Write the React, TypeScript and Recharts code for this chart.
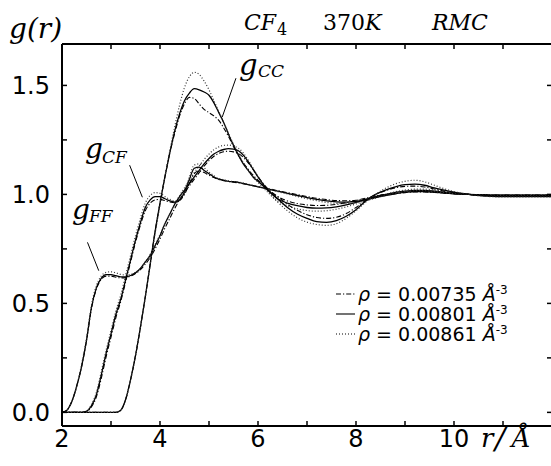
import React from "react";
import { LineChart, Line, XAxis, YAxis, ReferenceLine, Legend } from "recharts";

// r grid (Å) shared by all nine curves
const rGrid = [
  2.0, 2.1, 2.2, 2.3, 2.4, 2.5, 2.6, 2.7, 2.8, 2.9,
  3.0, 3.1, 3.2, 3.3, 3.4, 3.5, 3.6, 3.7, 3.8, 3.9,
  4.0, 4.1, 4.2, 4.3, 4.4, 4.5, 4.6, 4.7, 4.8, 4.9,
  5.0, 5.1, 5.2, 5.3, 5.4, 5.5, 5.6, 5.7, 5.8, 5.9, 6.0,
  6.2, 6.4, 6.6, 6.8, 7.0, 7.2, 7.4, 7.6, 7.8, 8.0, 8.2, 8.4, 8.6, 8.8, 9.0, 9.2, 9.4, 9.6, 9.8, 10.0,
  10.3, 10.6, 10.9, 11.2, 11.5, 11.8, 12.0,
];

// g_FF
const ffLow = [
  0, 0.01, 0.05, 0.12, 0.21, 0.33, 0.475, 0.565, 0.61, 0.625,
  0.625, 0.62, 0.617, 0.618, 0.625, 0.637, 0.655, 0.68, 0.71, 0.75,
  0.795, 0.845, 0.89, 0.935, 0.975, 1.01, 1.04, 1.07, 1.1, 1.13,
  1.155, 1.175, 1.188, 1.196, 1.198, 1.195, 1.187, 1.17, 1.145, 1.115, 1.082,
  1.025, 0.99, 0.97, 0.958, 0.952, 0.949, 0.95, 0.954, 0.962, 0.972, 0.983, 0.993, 1.0, 1.006, 1.011, 1.013, 1.013, 1.011, 1.007, 1.003,
  1.0, 0.998, 0.996, 0.996, 0.996, 0.996, 0.996,
];
const ffMid = [
  0, 0.01, 0.05, 0.12, 0.21, 0.33, 0.48, 0.57, 0.615, 0.632,
  0.632, 0.627, 0.622, 0.622, 0.628, 0.64, 0.66, 0.69, 0.72, 0.765,
  0.81, 0.865, 0.91, 0.955, 0.99, 1.02, 1.05, 1.08, 1.11, 1.14,
  1.165, 1.185, 1.198, 1.206, 1.21, 1.208, 1.2, 1.18, 1.15, 1.115, 1.08,
  1.02, 0.98, 0.96, 0.948, 0.94, 0.937, 0.938, 0.943, 0.952, 0.963, 0.977, 0.99, 1.0, 1.009, 1.015, 1.018, 1.018, 1.015, 1.01, 1.005,
  1.0, 0.997, 0.995, 0.995, 0.995, 0.995, 0.995,
];
const ffHigh = [
  0, 0.01, 0.05, 0.12, 0.22, 0.34, 0.49, 0.58, 0.625, 0.642,
  0.645, 0.64, 0.633, 0.63, 0.633, 0.643, 0.66, 0.69, 0.725, 0.77,
  0.815, 0.865, 0.91, 0.955, 0.995, 1.03, 1.065, 1.1, 1.13, 1.16,
  1.185, 1.205, 1.218, 1.225, 1.226, 1.222, 1.212, 1.19, 1.158, 1.12, 1.08,
  1.015, 0.97, 0.948, 0.934, 0.926, 0.923, 0.925, 0.932, 0.943, 0.956, 0.972, 0.987, 1.0, 1.012, 1.02, 1.024, 1.024, 1.02, 1.013, 1.006,
  1.0, 0.996, 0.994, 0.994, 0.994, 0.994, 0.994,
];

// g_CF
const cfLow = [
  0, 0, 0, 0, 0, 0.004, 0.025, 0.07, 0.155, 0.255,
  0.345, 0.435, 0.51, 0.6, 0.69, 0.78, 0.86, 0.925, 0.96, 0.975,
  0.977, 0.972, 0.965, 0.962, 0.972, 1.0, 1.05, 1.095, 1.108, 1.1,
  1.088, 1.077, 1.068, 1.063, 1.059, 1.056, 1.053, 1.049, 1.045, 1.04, 1.036,
  1.027, 1.017, 1.008, 0.999, 0.99, 0.982, 0.976, 0.972, 0.971, 0.973, 0.978, 0.987, 0.996, 1.003, 1.008, 1.011, 1.011, 1.009, 1.006, 1.003,
  1.0, 0.998, 0.997, 0.997, 0.997, 0.997, 0.997,
];
const cfMid = [
  0, 0, 0, 0, 0, 0.005, 0.03, 0.08, 0.17, 0.27,
  0.36, 0.45, 0.52, 0.61, 0.7, 0.79, 0.87, 0.94, 0.975, 0.99,
  0.99, 0.98, 0.97, 0.965, 0.975, 1.01, 1.07, 1.12, 1.125, 1.11,
  1.095, 1.08, 1.07, 1.065, 1.06, 1.058, 1.055, 1.05, 1.045, 1.04, 1.035,
  1.025, 1.015, 1.005, 0.995, 0.985, 0.977, 0.97, 0.966, 0.965, 0.968, 0.975, 0.985, 0.995, 1.003, 1.01, 1.013, 1.013, 1.01, 1.006, 1.003,
  1.0, 0.998, 0.997, 0.997, 0.997, 0.997, 0.997,
];
const cfHigh = [
  0, 0, 0, 0, 0, 0.006, 0.035, 0.09, 0.185, 0.285,
  0.375, 0.465, 0.54, 0.63, 0.72, 0.81, 0.89, 0.96, 0.995, 1.008,
  1.005, 0.99, 0.977, 0.97, 0.978, 1.015, 1.08, 1.135, 1.14, 1.122,
  1.103, 1.085, 1.073, 1.067, 1.062, 1.059, 1.056, 1.052, 1.047, 1.041, 1.036,
  1.024, 1.013, 1.002, 0.991, 0.98, 0.971, 0.963, 0.959, 0.958, 0.962, 0.971, 0.983, 0.995, 1.005, 1.013, 1.017, 1.017, 1.013, 1.008, 1.004,
  1.0, 0.997, 0.996, 0.996, 0.996, 0.996, 0.996,
];

// g_CC
const ccLow = [
  0, 0, 0, 0, 0, 0, 0, 0, 0, 0,
  0, 0, 0.01, 0.06, 0.15, 0.26, 0.39, 0.53, 0.68, 0.83,
  0.96, 1.08, 1.19, 1.28, 1.36, 1.415, 1.445, 1.44, 1.415, 1.39,
  1.375, 1.36, 1.34, 1.305, 1.265, 1.22, 1.18, 1.145, 1.115, 1.088, 1.065,
  1.025, 0.99, 0.955, 0.927, 0.907, 0.894, 0.89, 0.895, 0.912, 0.94, 0.972, 1.0, 1.017, 1.03, 1.037, 1.038, 1.034, 1.025, 1.015, 1.008,
  1.0, 0.994, 0.991, 0.991, 0.991, 0.991, 0.991,
];
const ccMid = [
  0, 0, 0, 0, 0, 0, 0, 0, 0, 0,
  0, 0, 0.01, 0.06, 0.15, 0.26, 0.39, 0.53, 0.68, 0.83,
  0.96, 1.08, 1.19, 1.29, 1.37, 1.43, 1.465, 1.485, 1.48, 1.47,
  1.455, 1.42, 1.375, 1.33, 1.275, 1.225, 1.18, 1.14, 1.11, 1.08, 1.06,
  1.02, 0.98, 0.94, 0.91, 0.89, 0.875, 0.872, 0.88, 0.9, 0.93, 0.97, 1.0, 1.02, 1.035, 1.045, 1.047, 1.042, 1.03, 1.02, 1.01,
  1.0, 0.993, 0.99, 0.99, 0.99, 0.99, 0.99,
];
const ccHigh = [
  0, 0, 0, 0, 0, 0, 0, 0, 0, 0,
  0, 0, 0.01, 0.06, 0.15, 0.26, 0.39, 0.53, 0.68, 0.82,
  0.95, 1.08, 1.2, 1.31, 1.41, 1.49, 1.54, 1.56, 1.55, 1.52,
  1.48, 1.43, 1.38, 1.33, 1.28, 1.23, 1.185, 1.145, 1.11, 1.08, 1.055,
  1.01, 0.965, 0.925, 0.893, 0.873, 0.862, 0.858, 0.866, 0.89, 0.925, 0.965, 1.0, 1.028, 1.048, 1.06, 1.065, 1.058, 1.042, 1.026, 1.013,
  1.0, 0.992, 0.989, 0.989, 0.989, 0.989, 0.989,
];

const xTicks = [2, 3, 4, 5, 6, 7, 8, 9, 10, 11, 12];
const xLabelTicks = [2, 4, 6, 8, 10];
const yTicks = [0, 0.25, 0.5, 0.75, 1, 1.25, 1.5];
const yLabelTicks = [0, 0.5, 1, 1.5];
const densities = ["0.00735", "0.00801", "0.00861"];

const data = rGrid.map((r, i) => ({
  r,
  ffLow: ffLow[i], ffMid: ffMid[i], ffHigh: ffHigh[i],
  cfLow: cfLow[i], cfMid: cfMid[i], cfHigh: cfHigh[i],
  ccLow: ccLow[i], ccMid: ccMid[i], ccHigh: ccHigh[i],
}));

// line style per density: dash-dot, solid, dotted
const styles = [
  { dash: "5 2 1.2 2", color: "#000", width: 1.1 },
  { dash: undefined, color: "#000", width: 1.3 },
  { dash: "1 2", color: "#333", width: 1.2 },
];
const series = [
  ["ffLow", "ffMid", "ffHigh"],
  ["cfLow", "cfMid", "cfHigh"],
  ["ccLow", "ccMid", "ccHigh"],
];

const serif = "DejaVu Serif";
const sans = "DejaVu Sans";

const BottomTick = (p: any) => {
  const v = p.payload.value;
  return (
    <g>
      <line x1={p.x} y1={p.y} x2={p.x} y2={p.y - 5} stroke="#000" strokeWidth={1.5} />
      {xLabelTicks.includes(v) && (
        <text x={p.x} y={p.y + 21} textAnchor="middle" fontSize={24} fontFamily={sans} fill="#000">
          {v}
        </text>
      )}
    </g>
  );
};

const TopTick = (p: any) => (
  <line x1={p.x} y1={p.y} x2={p.x} y2={p.y + 5} stroke="#000" strokeWidth={1.5} />
);

const LeftTick = (p: any) => {
  const v = p.payload.value;
  return (
    <g>
      <line x1={p.x} y1={p.y} x2={p.x + 5} y2={p.y} stroke="#000" strokeWidth={1.5} />
      {yLabelTicks.includes(v) && (
        <text x={p.x - 12} y={p.y + 8.5} textAnchor="end" fontSize={24} fontFamily={sans} fill="#000">
          {v.toFixed(1)}
        </text>
      )}
    </g>
  );
};

const RightTick = (p: any) => (
  <line x1={p.x} y1={p.y} x2={p.x - 5} y2={p.y} stroke="#000" strokeWidth={1.5} />
);

const LegendBox = () => (
  <div style={{ fontFamily: sans, fontSize: 19, color: "#000", lineHeight: "20px" }}>
    {densities.map((d, i) => (
      <div key={d} style={{ display: "flex", alignItems: "center", height: 20, whiteSpace: "nowrap" }}>
        <svg width={19} height={20}>
          <line x1={0} y1={10} x2={19} y2={10} stroke="#000" strokeWidth={1.1} strokeDasharray={styles[i].dash} />
        </svg>
        <span style={{ marginLeft: 3 }}>
          <i>ρ</i> = {d} <i>Å</i>
          <sup style={{ fontSize: 12, lineHeight: 0, verticalAlign: 7 }}>-3</sup>
        </span>
      </div>
    ))}
  </div>
);

const axisLine = { stroke: "#000", strokeWidth: 2 };

export default function App() {
  return (
    <div style={{ position: "absolute", left: 0, top: 0, width: 551, height: 466, overflow: "hidden", background: "#fff" }}>
      <LineChart width={553} height={466} data={data} margin={{ top: 43, right: 0, bottom: 0, left: 0 }}>
        <XAxis xAxisId="b" dataKey="r" type="number" orientation="bottom" domain={[2, 12]} ticks={xTicks}
          interval={0} height={40} tickSize={0} tickMargin={0} tickLine={false} axisLine={axisLine}
          tick={BottomTick} allowDataOverflow />
        <XAxis xAxisId="t" dataKey="r" type="number" orientation="top" domain={[2, 12]} ticks={xTicks}
          interval={0} height={1} tickSize={0} tickMargin={0} tickLine={false} axisLine={axisLine}
          tick={TopTick} allowDataOverflow />
        <YAxis yAxisId="l" type="number" orientation="left" domain={[-0.0625, 1.69]} ticks={yTicks}
          interval={0} width={62} tickSize={0} tickMargin={0} tickLine={false} axisLine={axisLine}
          tick={LeftTick} allowDataOverflow />
        <YAxis yAxisId="rt" type="number" orientation="right" domain={[-0.0625, 1.69]} ticks={yTicks}
          interval={0} width={1} tickSize={0} tickMargin={0} tickLine={false} axisLine={axisLine}
          tick={RightTick} allowDataOverflow />

        {series.map((group) =>
          group.map((key, i) => (
            <Line key={key} xAxisId="b" yAxisId="l" dataKey={key} type="monotone" dot={false}
              stroke={styles[i].color} strokeWidth={styles[i].width} strokeDasharray={styles[i].dash}
              isAnimationActive={false} />
          ))
        )}

        {/* leader lines from the g labels to their curves */}
        <ReferenceLine xAxisId="b" yAxisId="l" segment={[{ x: 5.55, y: 1.533 }, { x: 5.27, y: 1.355 }]}
          stroke="#000" strokeWidth={1} ifOverflow="visible" />
        <ReferenceLine xAxisId="b" yAxisId="l" segment={[{ x: 3.38, y: 1.134 }, { x: 3.64, y: 0.987 }]}
          stroke="#000" strokeWidth={1} ifOverflow="visible" />
        <ReferenceLine xAxisId="b" yAxisId="l" segment={[{ x: 2.52, y: 0.78 }, { x: 2.75, y: 0.65 }]}
          stroke="#000" strokeWidth={1} ifOverflow="visible" />

        <Legend verticalAlign="middle" align="center" layout="horizontal"
          wrapperStyle={{ left: 336, top: 284, width: "auto", height: "auto" }}
          content={() => <LegendBox />} />
      </LineChart>

      <svg width={551} height={466} style={{ position: "absolute", left: 0, top: 0, pointerEvents: "none" }}>
        <g fontFamily={serif} fill="#000" fontStyle="italic">
          <text x={9} y={38} fontSize={28}>g(r)</text>

          <text x={244} y={30} fontSize={22}>CF</text>
          <text x={277} y={35} fontSize={16} fontStyle="normal">4</text>
          <text x={323} y={30} fontSize={22} fontStyle="normal">370<tspan fontStyle="italic">K</tspan></text>
          <text x={432} y={30} fontSize={22}>RMC</text>

          <text x={239} y={75} fontSize={29}>g</text>
          <text x={258} y={77} fontSize={17}>CC</text>
          <text x={85} y={158} fontSize={28}>g</text>
          <text x={102} y={163} fontSize={17}>CF</text>
          <text x={72} y={219} fontSize={28}>g</text>
          <text x={89} y={222} fontSize={17}>FF</text>

          <text x={481} y={447} fontSize={26}>r</text>
          <text x={495} y={449} fontSize={30}>/</text>
          <text x={512} y={447} fontSize={26}>Å</text>
        </g>
      </svg>
    </div>
  );
}
